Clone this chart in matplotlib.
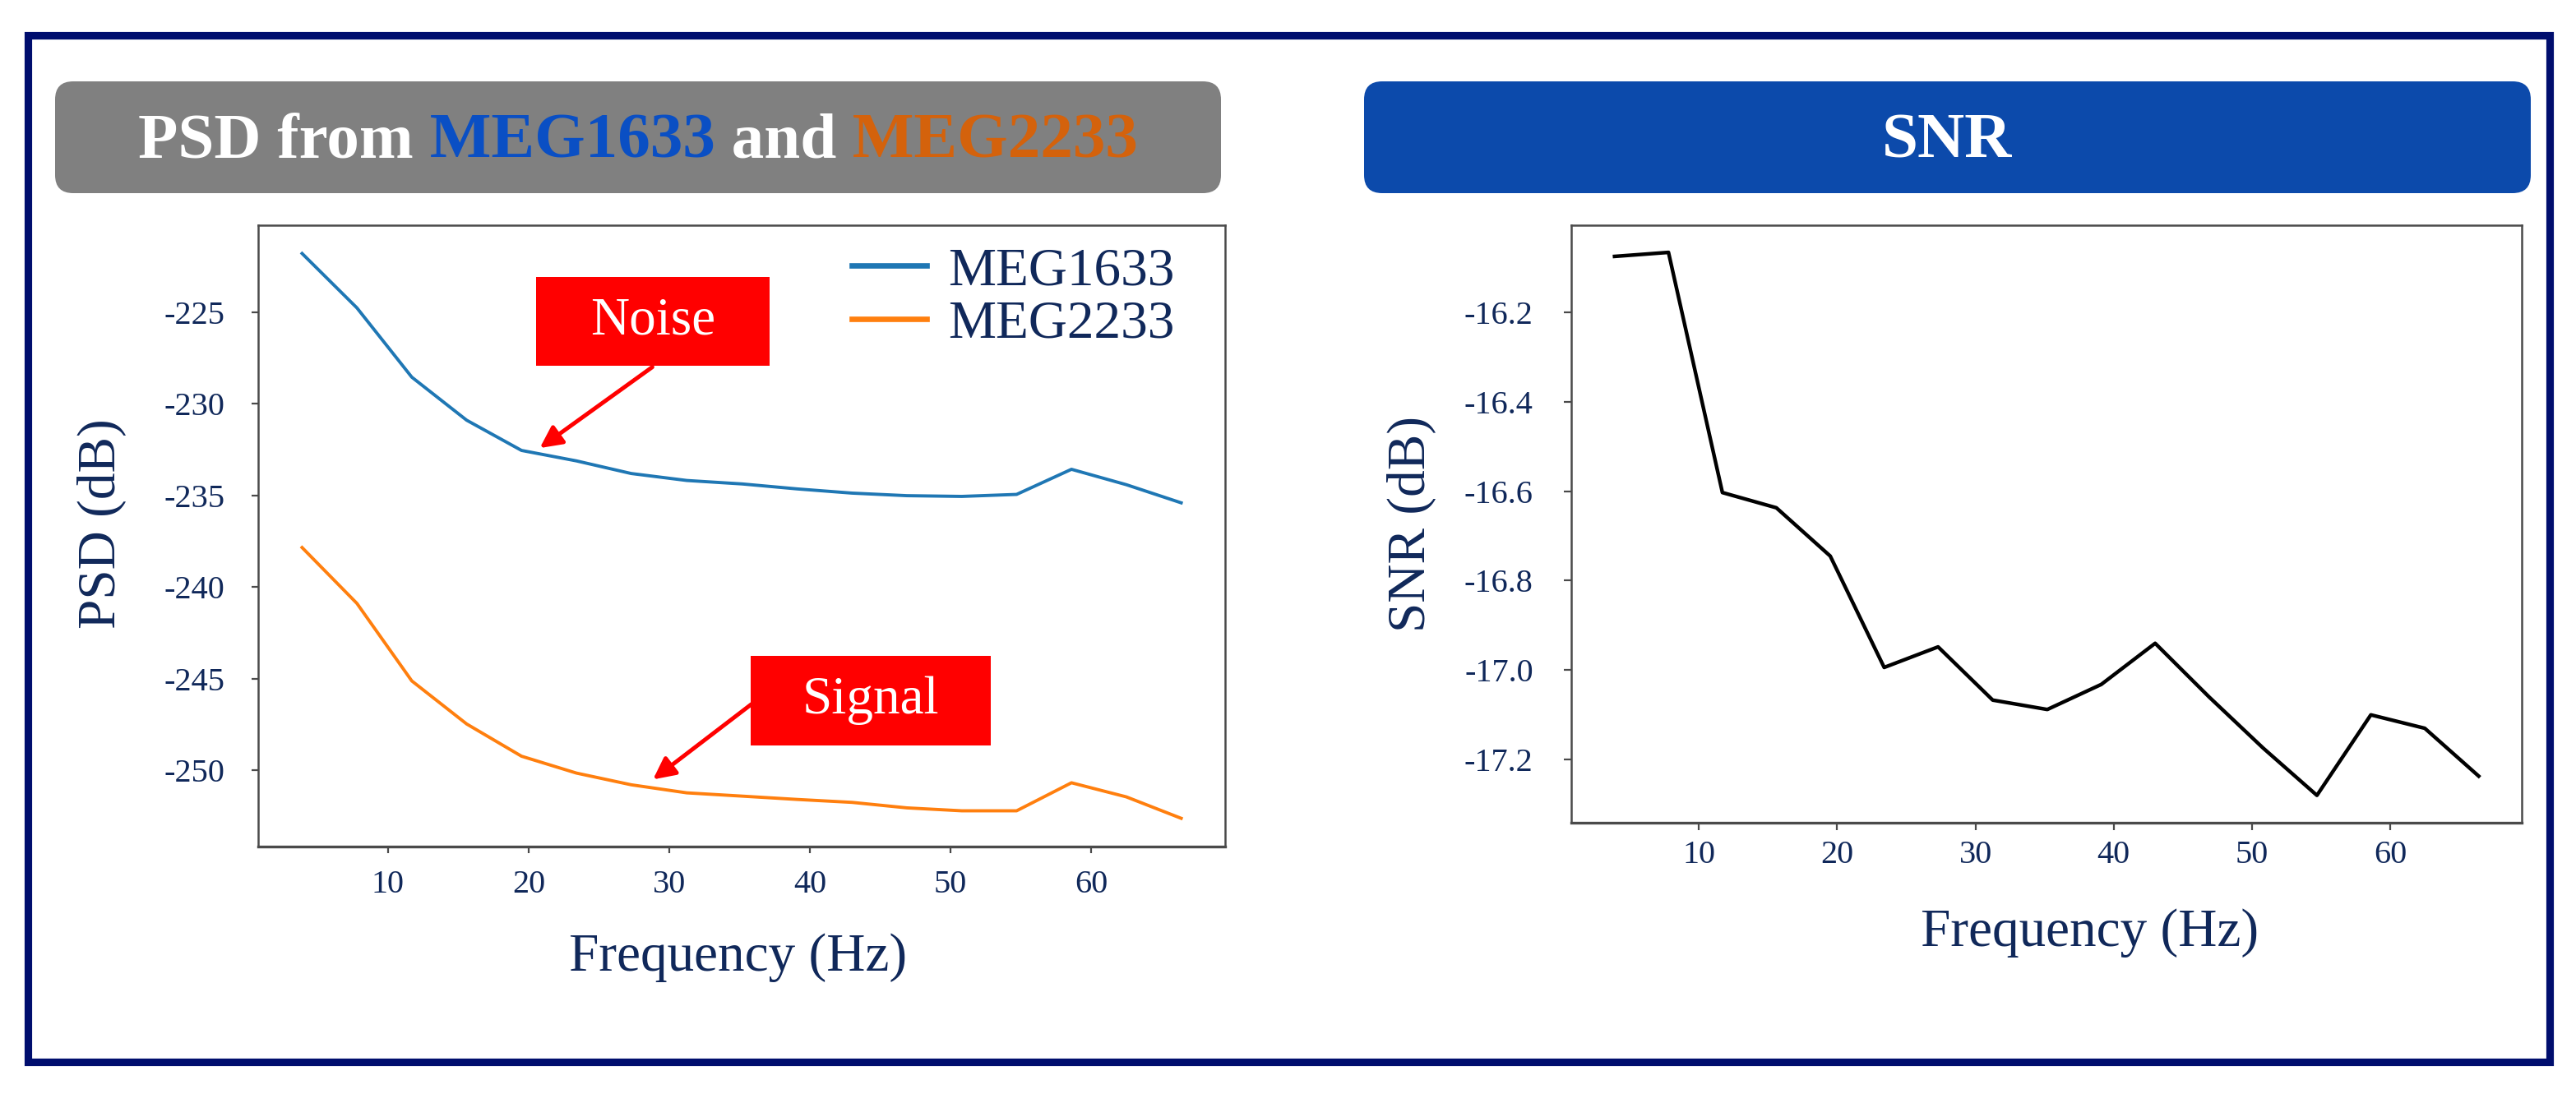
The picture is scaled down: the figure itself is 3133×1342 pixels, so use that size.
import matplotlib
matplotlib.use("Agg")
import matplotlib.pyplot as plt
from matplotlib.patches import FancyBboxPatch, Rectangle

plt.rcParams["font.family"] = ["Liberation Serif", "DejaVu Serif"]
plt.rcParams["axes.unicode_minus"] = False

# --- data ---
freq = [3.9, 7.8, 11.7, 15.6, 19.5, 23.4, 27.3, 31.25, 35.2, 39.1,
        43.0, 46.9, 50.8, 54.7, 58.6, 62.5, 66.4]
psd_meg1633 = [-221.80, -224.77, -228.55, -230.90, -232.55, -233.12, -233.81,
               -234.19, -234.38, -234.65, -234.88, -235.02, -235.06, -234.95,
               -233.58, -234.42, -235.41]
psd_meg2233 = [-237.85, -240.90, -245.13, -247.48, -249.24, -250.16, -250.80,
               -251.24, -251.42, -251.60, -251.76, -252.06, -252.22, -252.22,
               -250.69, -251.46, -252.63]
snr = [-16.075, -16.066, -16.603, -16.637, -16.745, -16.994, -16.948,
       -17.067, -17.088, -17.032, -16.940, -17.060, -17.174, -17.280,
       -17.100, -17.130, -17.237]

NAVY = "#10285a"
SPINE = "#4a4a4a"
W, H, DPI = 3133, 1342, 200

fig = plt.figure(figsize=(W / DPI, H / DPI), dpi=DPI)

# background layer in pixel units
bg = fig.add_axes([0, 0, 1, 1])
bg.set_xlim(0, W); bg.set_ylim(H, 0); bg.axis("off")
bg.add_patch(Rectangle((34, 43), 3067, 1249, fill=False, ec="#000e6e", lw=3.3))
bg.add_patch(FancyBboxPatch((67, 99), 1418, 136, boxstyle="round,pad=0,rounding_size=22",
                            fc="#808080", ec="none"))
bg.add_patch(FancyBboxPatch((1659, 99), 1419, 136, boxstyle="round,pad=0,rounding_size=22",
                            fc="#0c4aab", ec="none"))

# multi-coloured header on the left
pieces = [("PSD from", "white"), (" MEG1633", "#0a4fc4"),
          (" and", "white"), (" MEG2233", "#d4620c")]
hdr_kw = dict(fontsize=28.5, fontweight="bold")
first = bg.text(0, 192, pieces[0][0], color=pieces[0][1], ha="left", va="baseline", **hdr_kw)
prev = first
parts = [first]
for txt, col in pieces[1:]:
    prev = bg.annotate(txt, xy=(1, 0), xycoords=prev, ha="left", va="bottom",
                       color=col, **hdr_kw)
    parts.append(prev)
fig.canvas.draw()
r = fig.canvas.get_renderer()
x0 = parts[0].get_window_extent(r).x0
x1 = parts[-1].get_window_extent(r).x1
first.set_x(776 - (x1 - x0) / 2)
bg.text(2368, 192, "SNR", color="white", ha="center", va="baseline", **hdr_kw)

# --- left: PSD ---
ax1 = fig.add_axes([0.1002, 0.2325, 0.3754, 0.5633])
ax1.plot(freq, psd_meg1633, color="#1f77b4", lw=1.4, label="MEG1633")
ax1.plot(freq, psd_meg2233, color="#ff7f0e", lw=1.4, label="MEG2233")
ax1.set_xticks([10, 20, 30, 40, 50, 60])
ax1.set_yticks([-250, -245, -240, -235, -230, -225])
ax1.set_xlabel("Frequency (Hz)", fontsize=23.5, color=NAVY)
ax1.set_ylabel("PSD (dB)", fontsize=23.5, color=NAVY)
ax1.xaxis.set_label_coords(0.496, -0.140)
ax1.yaxis.set_label_coords(-0.136, 0.52)
ax1.tick_params(axis="y", length=3, color=SPINE, labelcolor=NAVY, labelsize=14.5, pad=11.5)
ax1.tick_params(axis="x", length=3, color=SPINE, labelcolor=NAVY, labelsize=14.5, pad=7)
leg = ax1.legend(loc="upper right", bbox_to_anchor=(0.948, 0.965), frameon=False,
                 fontsize=23.5, handlelength=1.4, handletextpad=0.4, labelspacing=0.07,
                 borderpad=0, borderaxespad=0, labelcolor=NAVY)
for ln in leg.get_lines():
    ln.set_linewidth(2.4)

box_kw = dict(transform=ax1.transAxes, fc="#ff0000", ec="none", zorder=4)
ax1.add_patch(Rectangle((0.2874, 0.7738), 0.2415, 0.1429, **box_kw))
ax1.add_patch(Rectangle((0.5094, 0.1627), 0.2483, 0.1442, **box_kw))
ax1.text(0.408, 0.8453, "Noise", transform=ax1.transAxes, color="white",
         fontsize=23.5, ha="center", va="center", zorder=5)
ax1.text(0.6335, 0.2348, "Signal", transform=ax1.transAxes, color="white",
         fontsize=23.5, ha="center", va="center", zorder=5)
arrow = dict(arrowstyle="-|>", color="#ff0000", lw=1.8, mutation_scale=20,
             shrinkA=0, shrinkB=0)
ax1.annotate("", xy=(20.8, -232.42), xytext=(28.8, -228.0), arrowprops=arrow, zorder=3)
ax1.annotate("", xy=(28.85, -250.51), xytext=(35.85, -246.4), arrowprops=arrow, zorder=3)

# --- right: SNR ---
ax2 = fig.add_axes([0.6100, 0.2543, 0.3690, 0.5415])
ax2.plot(freq, snr, color="black", lw=1.6)
ax2.set_xticks([10, 20, 30, 40, 50, 60])
ax2.set_yticks([-17.2, -17.0, -16.8, -16.6, -16.4, -16.2])
ax2.set_yticklabels(["-17.2", "-17.0", "-16.8", "-16.6", "-16.4", "-16.2"])
ax2.set_xlabel("Frequency (Hz)", fontsize=23.5, color=NAVY)
ax2.set_ylabel("SNR (dB)", fontsize=23.5, color=NAVY)
ax2.xaxis.set_label_coords(0.545, -0.1435)
ax2.yaxis.set_label_coords(-0.142, 0.5)
ax2.tick_params(axis="y", length=3.2, color=SPINE, labelcolor=NAVY, labelsize=14.5, pad=13.5)
ax2.tick_params(axis="x", length=3.2, color=SPINE, labelcolor=NAVY, labelsize=14.5, pad=4.5)

for ax in (ax1, ax2):
    for side, sp in ax.spines.items():
        sp.set_color(SPINE)
        sp.set_linewidth(1.2 if side == "bottom" else 0.9)

fig.savefig("out.png", dpi=DPI)
